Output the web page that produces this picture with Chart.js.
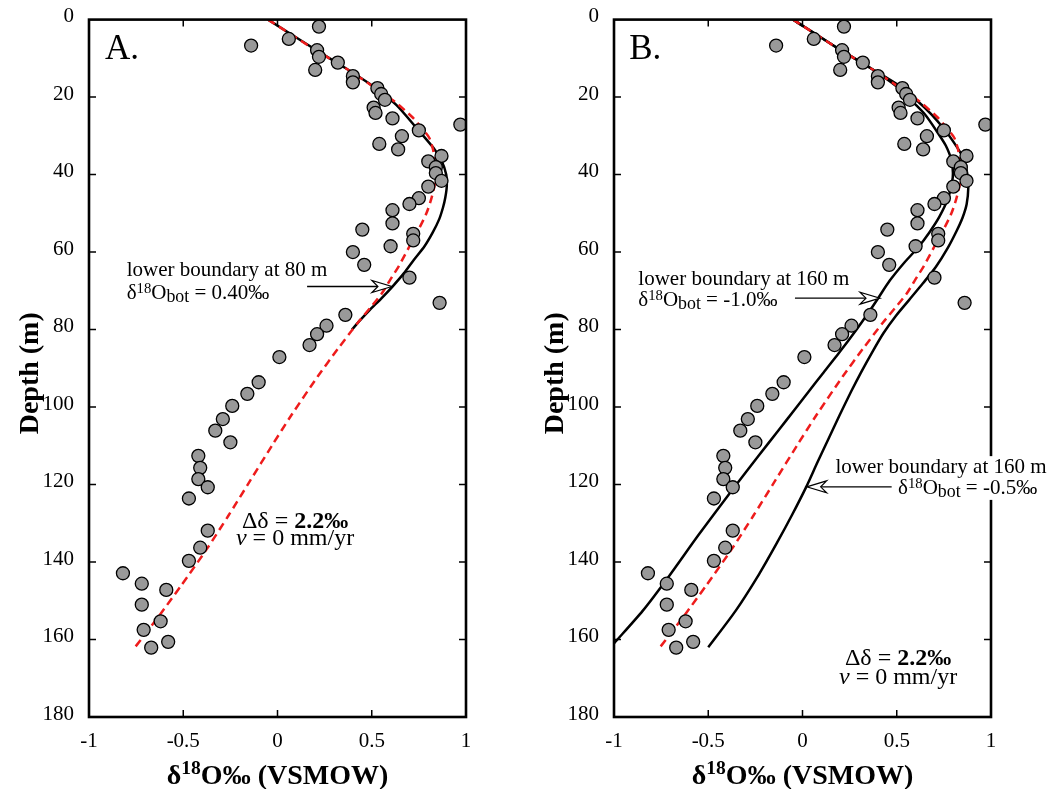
<!DOCTYPE html>
<html>
<head>
<meta charset="utf-8">
<script src="https://cdn.jsdelivr.net/npm/chart.js@4.4.0/dist/chart.umd.min.js"></script>
<style>
html, body { margin: 0; padding: 0; background: #fff; }
#wrap { position: relative; width: 1053px; height: 789px; overflow: hidden; }
canvas { position: absolute; top: 0; }
#panelA { left: 0; width: 526px; height: 789px; }
#panelB { left: 526px; width: 527px; height: 789px; }
</style>
</head>
<body>
<div id="wrap">
  <canvas id="panelA" width="526" height="789"></canvas>
  <canvas id="panelB" width="527" height="789"></canvas>
</div>
<script>
// measured d18O profile (same samples in both panels)
const obsDelta = [0.22, -0.14, 0.06, 0.21, 0.22, 0.20, 0.32, 0.40, 0.40, 0.53, 0.55, 0.57, 0.51, 0.52, 0.61, 0.97,
  0.75, 0.66, 0.54, 0.64, 0.87, 0.80, 0.84, 0.84, 0.87, 0.80, 0.75, 0.70, 0.61, 0.61, 0.45, 0.72, 0.72, 0.60,
  0.40, 0.46, 0.70, 0.86, 0.36, 0.26, 0.21, 0.17, 0.01, -0.10, -0.16, -0.24, -0.29, -0.33, -0.25, -0.42, -0.41,
  -0.42, -0.37, -0.47, -0.37, -0.41, -0.47, -0.82, -0.72, -0.59, -0.72, -0.62, -0.71, -0.58, -0.67];
const obsDepth = [1.8, 6.7, 5.0, 7.9, 9.6, 13.0, 11.1, 14.6, 16.2, 17.7, 19.2, 20.7, 22.7, 24.1, 25.5, 27.1,
  28.6, 30.1, 32.1, 33.5, 35.2, 36.6, 38.1, 39.6, 41.6, 43.1, 46.1, 47.6, 49.2, 52.6, 54.2, 55.3, 57.0, 58.5,
  60.0, 63.3, 66.6, 73.1, 76.2, 79.0, 81.2, 84.0, 87.1, 93.6, 96.6, 99.7, 103.1, 106.1, 109.1, 112.6, 115.7,
  118.6, 120.7, 123.6, 131.9, 136.3, 139.7, 142.9, 145.6, 147.2, 151.0, 155.3, 157.5, 160.6, 162.1];

// red dashed model curve
const modelDelta = [-0.05, 0.19, 0.36, 0.508, 0.63, 0.72, 0.765, 0.805, 0.825, 0.834, 0.84, 0.818, 0.79, 0.745,
  0.695, 0.645, 0.60, 0.553, 0.49, 0.425, 0.32, 0.215, 0.075, -0.03, -0.145, -0.26, -0.38, -0.51, -0.63, -0.756];
const modelDepth = [0, 7.5, 12.5, 17.3, 21.5, 25.4, 28, 30.5, 33.5, 36.5, 40.8, 45.9, 50, 54.5,
  59, 63.5, 67, 70.7, 74.5, 78.3, 85, 92, 102, 110, 119, 128, 137, 146, 154, 162];

// panel A: lower boundary at 80 m, 0.40 permil
const bound80Delta = [-0.05, 0.19, 0.36, 0.51, 0.63, 0.738, 0.827, 0.871, 0.895, 0.898, 0.89, 0.878, 0.858,
  0.823, 0.78, 0.722, 0.67, 0.61, 0.55, 0.49, 0.44, 0.395];
const bound80Depth = [0, 7.4, 12.5, 17.3, 22, 28, 33.1, 36.5, 40, 43, 46, 48.5, 51.5,
  55, 58.5, 62.1, 65.5, 68.9, 72, 74.9, 77.5, 80];

// panel B: lower boundary at 160 m, -1.0 permil
const bound160aDelta = [-0.05, 0.19, 0.36, 0.50, 0.58, 0.65, 0.712, 0.76, 0.791, 0.797, 0.774, 0.725, 0.672,
  0.615, 0.535, 0.464, 0.40, 0.345, 0.285, 0.194, 0.113, 0.033, -0.039, -0.127, -0.232, -0.367, -0.55, -0.715,
  -0.848, -1.0];
const bound160aDepth = [0, 7.5, 12.5, 17.3, 21, 24.5, 28.8, 32.5, 36.5, 40.8, 45.9, 51, 55,
  58.7, 63, 67.3, 72, 76, 80.1, 86, 91, 96, 100.5, 106, 112.5, 121, 132.9, 144.1,
  152.6, 161];

// panel B: lower boundary at 160 m, -0.5 permil
const bound160bDelta = [-0.05, 0.19, 0.36, 0.52, 0.61, 0.685, 0.747, 0.80, 0.853, 0.875, 0.88, 0.871, 0.85,
  0.818, 0.77, 0.708, 0.64, 0.565, 0.495, 0.43, 0.368, 0.31, 0.258, 0.196, 0.14, 0.08, 0.02, -0.055, -0.135,
  -0.23, -0.355, -0.5];
const bound160bDepth = [0, 7.5, 12.5, 17.3, 21, 24.5, 28, 31.5, 35.7, 40, 43, 47.6, 51,
  54.5, 59, 63.8, 68, 72.4, 76.5, 80.9, 86, 91.1, 96, 102.2, 108, 114.2, 120.6, 127.8, 135,
  143.1, 152.6, 162];

const SERIF = '"Liberation Serif", "DejaVu Serif", serif';

function pairs(xs, ys) {
  return xs.map((x, i) => ({ x: x, y: ys[i] }));
}

function pointSet() {
  return {
    data: pairs(obsDelta, obsDepth),
    showLine: false,
    pointRadius: 6.5,
    pointBackgroundColor: '#999999',
    pointBorderColor: '#000',
    pointBorderWidth: 1.3
  };
}

function lineSet(xs, ys, color, dash) {
  return {
    data: pairs(xs, ys),
    showLine: true,
    borderColor: color,
    borderWidth: 2.5,
    borderDash: dash || [],
    pointRadius: 0,
    tension: 0.25,
    fill: false
  };
}

// rich text: parts = [{t, k (size factor), b (bold), i (italic), r (rise factor)}]
function fontOf(p, size) {
  return (p.i ? 'italic ' : '') + (p.b ? 'bold ' : '') + (size * (p.k || 1)) + 'px ' + SERIF;
}

function drawRich(ctx, parts, x, y, size, align, bg) {
  let w = 0;
  parts.forEach(p => { ctx.font = fontOf(p, size); p.w = ctx.measureText(p.t).width; w += p.w; });
  let cx = align === 'center' ? x - w / 2 : align === 'right' ? x - w : x;
  if (bg) {
    ctx.fillStyle = '#fff';
    ctx.fillRect(cx - 2, y - size * 0.78, w + 4, size * 1.05);
  }
  ctx.fillStyle = '#000';
  ctx.textBaseline = 'alphabetic';
  ctx.textAlign = 'left';
  parts.forEach(p => {
    ctx.font = fontOf(p, size);
    ctx.fillText(p.t, cx, y - (p.r || 0) * size);
    cx += p.w;
  });
}

function deltaBot(val) {
  return [{ t: 'δ' }, { t: '18', k: 0.7, r: 0.3 }, { t: 'O' }, { t: 'bot', k: 0.85, r: -0.14 }, { t: ' = ' + val + '‰' }];
}

function drawArrow(ctx, x1, y1, x2, y2) {
  const ang = Math.atan2(y2 - y1, x2 - x1);
  const L = 20, W = 6, N = 14;
  const c = Math.cos(ang), s = Math.sin(ang);
  ctx.save();
  ctx.strokeStyle = '#000';
  ctx.lineWidth = 1.4;
  ctx.beginPath();
  ctx.moveTo(x1, y1);
  ctx.lineTo(x2 - N * c, y2 - N * s);
  ctx.stroke();
  ctx.beginPath();
  ctx.moveTo(x2, y2);
  ctx.lineTo(x2 - L * c - W * s, y2 - L * s + W * c);
  ctx.lineTo(x2 - N * c, y2 - N * s);
  ctx.lineTo(x2 - L * c + W * s, y2 - L * s - W * c);
  ctx.closePath();
  ctx.fillStyle = '#fff';
  ctx.fill();
  ctx.lineWidth = 1.2;
  ctx.stroke();
  ctx.restore();
}

function decor(notes) {
  return {
    id: 'decor',
    afterDatasetsDraw(chart) {
      const ctx = chart.ctx, a = chart.chartArea;
      const sx = chart.scales.x, sy = chart.scales.y;
      const T = 7;
      ctx.save();
      ctx.strokeStyle = '#000';
      ctx.lineWidth = 1.5;
      ctx.beginPath();
      sx.ticks.forEach(t => {
        const p = sx.getPixelForValue(t.value);
        if (p <= a.left + 1 || p >= a.right - 1) return;
        ctx.moveTo(p, a.bottom); ctx.lineTo(p, a.bottom - T);
        ctx.moveTo(p, a.top); ctx.lineTo(p, a.top + T);
      });
      sy.ticks.forEach(t => {
        const p = sy.getPixelForValue(t.value);
        if (p <= a.top + 1 || p >= a.bottom - 1) return;
        ctx.moveTo(a.left, p); ctx.lineTo(a.left + T, p);
        ctx.moveTo(a.right, p); ctx.lineTo(a.right - T, p);
      });
      ctx.stroke();
      ctx.lineWidth = 2.6;
      ctx.strokeRect(a.left, a.top, a.right - a.left, a.bottom - a.top);
      ctx.restore();
    },
    afterDraw(chart) {
      const ctx = chart.ctx, a = chart.chartArea;
      const sx = chart.scales.x, sy = chart.scales.y;
      ctx.save();
      // axis titles
      ctx.translate(a.left - 60, (a.top + a.bottom) / 2 + 5);
      ctx.rotate(-Math.PI / 2);
      drawRich(ctx, [{ t: 'Depth (m)', b: true }], 0, 9, 28, 'center');
      ctx.restore();
      ctx.save();
      drawRich(ctx, [{ t: 'δ', b: true }, { t: '18', b: true, k: 0.7, r: 0.36 }, { t: 'O‰ (VSMOW)', b: true }],
        (a.left + a.right) / 2, 784, 28, 'center');
      // panel letter
      drawRich(ctx, [{ t: notes.letter }], sx.getPixelForValue(notes.letterAt[0]), sy.getPixelForValue(notes.letterAt[1]), 35, 'left');
      notes.texts.forEach(n => {
        drawRich(ctx, n.parts, sx.getPixelForValue(n.x), sy.getPixelForValue(n.y), n.size, n.align, n.bg);
      });
      notes.arrows.forEach(r => {
        drawArrow(ctx, sx.getPixelForValue(r[0]), sy.getPixelForValue(r[1]), sx.getPixelForValue(r[2]), sy.getPixelForValue(r[3]));
      });
      ctx.restore();
    }
  };
}

function options(yWidth, padRight) {
  return {
    responsive: false,
    animation: false,
    devicePixelRatio: 1,
    layout: { padding: { top: 14, right: padRight, left: 0, bottom: 0 } },
    plugins: { legend: { display: false }, tooltip: { enabled: false } },
    scales: {
      x: {
        type: 'linear', min: -1, max: 1,
        ticks: { stepSize: 0.5, color: '#000', font: { family: SERIF, size: 21 }, padding: 4, maxRotation: 0,
          callback: v => String(v) },
        grid: { display: false }, border: { display: false },
        afterFit: s => { s.height = 72; }
      },
      y: {
        type: 'linear', min: 0, max: 180, reverse: true,
        ticks: { stepSize: 20, color: '#000', font: { family: SERIF, size: 21 }, padding: 7, labelOffset: -3 },
        grid: { display: false }, border: { display: false },
        afterFit: s => { s.width = yWidth; }
      }
    }
  };
}

const ANN = 21;
const DD = 24;
const ddParts = [{ t: 'Δδ = ' }, { t: '2.2‰', b: true }];
const vParts = [{ t: 'v', i: true }, { t: ' = 0 mm/yr' }];

new Chart(document.getElementById('panelA'), {
  type: 'scatter',
  data: {
    datasets: [
      pointSet(),
      lineSet(modelDelta, modelDepth, '#ee1c1c', [8, 5]),
      lineSet(bound80Delta, bound80Depth, '#000')
    ]
  },
  options: options(89, 60),
  plugins: [decor({
    letter: 'A.', letterAt: [-0.915, 10.2],
    texts: [
      { parts: [{ t: 'lower boundary at 80 m' }], x: -0.80, y: 66.3, size: ANN, align: 'left' },
      { parts: deltaBot('0.40'), x: -0.80, y: 72.2, size: ANN, align: 'left' },
      { parts: ddParts, x: 0.093, y: 131.1, size: DD, align: 'center' },
      { parts: vParts, x: 0.093, y: 135.6, size: DD, align: 'center' }
    ],
    arrows: [[0.157, 68.9, 0.607, 68.9]]
  })]
});

new Chart(document.getElementById('panelB'), {
  type: 'scatter',
  data: {
    datasets: [
      pointSet(),
      lineSet(modelDelta, modelDepth, '#ee1c1c', [8, 5]),
      lineSet(bound160aDelta, bound160aDepth, '#000'),
      lineSet(bound160bDelta, bound160bDepth, '#000')
    ]
  },
  options: options(88, 62),
  plugins: [decor({
    letter: 'B.', letterAt: [-0.919, 10.1],
    texts: [
      { parts: [{ t: 'lower boundary at 160 m' }], x: -0.871, y: 68.5, size: ANN, align: 'left' },
      { parts: deltaBot('-1.0'), x: -0.871, y: 73.9, size: ANN, align: 'left' },
      { parts: [{ t: 'lower boundary at 160 m' }], x: 1.295, y: 116.9, size: ANN, align: 'right', bg: true },
      { parts: deltaBot('-0.5'), x: 1.245, y: 122.5, size: ANN, align: 'right', bg: true },
      { parts: ddParts, x: 0.507, y: 166.7, size: DD, align: 'center' },
      { parts: vParts, x: 0.507, y: 171.4, size: DD, align: 'center' }
    ],
    arrows: [[-0.04, 71.9, 0.411, 71.9], [0.473, 120.6, 0.022, 120.6]]
  })]
});
</script>
</body>
</html>
